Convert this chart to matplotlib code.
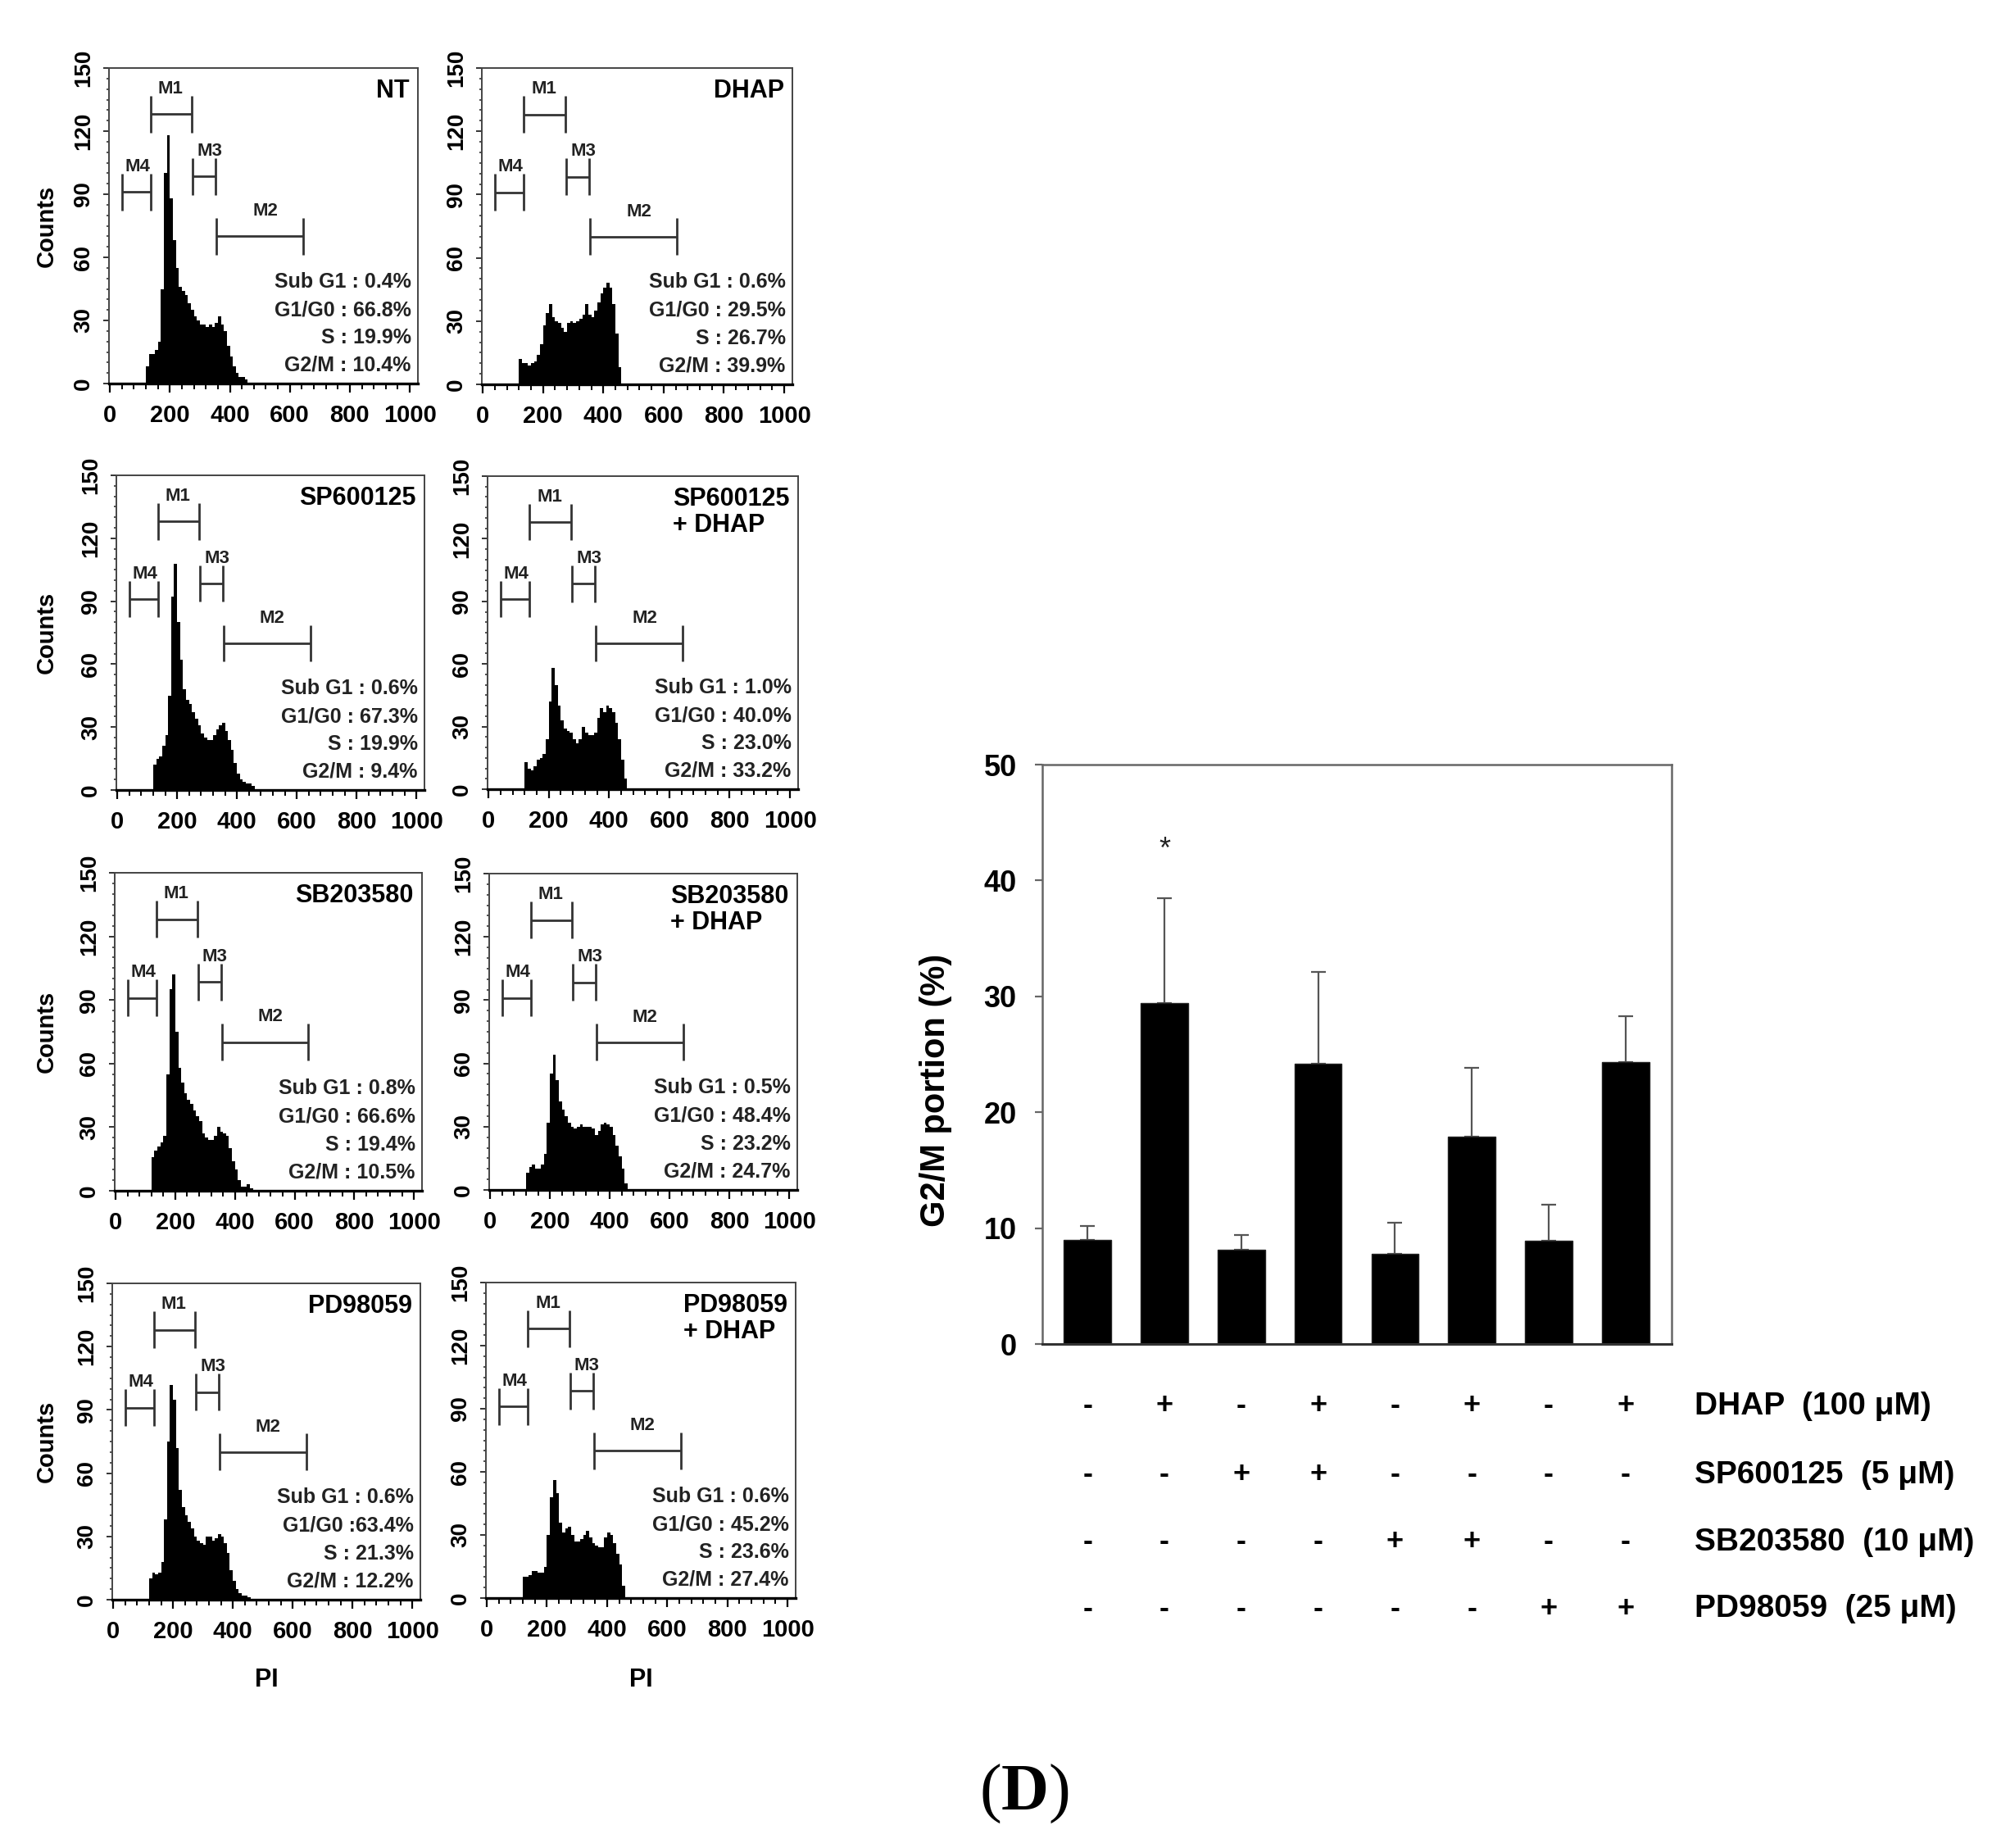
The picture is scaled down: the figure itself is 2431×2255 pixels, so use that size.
import numpy as np
import matplotlib
matplotlib.use('Agg')
import matplotlib.pyplot as plt
from matplotlib.ticker import MultipleLocator
from matplotlib import transforms

plt.rcParams['font.family'] = ['Liberation Sans', 'DejaVu Sans']
plt.rcParams['font.weight'] = 'bold'

# ---- flow cytometry histograms (counts per PI bin) ----
BIN_START = 120
BIN_WIDTH = 10

NT_COUNTS = [8, 14, 14, 16, 20, 45, 100, 118, 88, 68, 55, 46, 44, 42, 38, 35, 32, 30,
             28, 28, 27, 28, 27, 29, 32, 28, 25, 18, 13, 8, 5, 3, 3, 2, 0]
DHAP_COUNTS = [12, 10, 10, 9, 10, 11, 14, 19, 28, 34, 38, 32, 30, 29, 27, 25, 29, 30,
               29, 30, 31, 33, 38, 33, 32, 35, 39, 43, 46, 48, 46, 38, 24, 8, 0]
SP_COUNTS = [12, 15, 16, 21, 26, 45, 92, 108, 80, 62, 48, 43, 41, 37, 34, 31, 27, 25,
             24, 24, 26, 29, 31, 32, 28, 24, 19, 13, 8, 5, 4, 3, 3, 2, 0]
SP_DHAP_COUNTS = [13, 10, 9, 11, 14, 15, 17, 24, 42, 58, 50, 40, 33, 29, 28, 27, 24, 22,
                  24, 30, 27, 26, 26, 27, 34, 39, 37, 40, 39, 37, 32, 24, 14, 5, 0]
SB_COUNTS = [16, 19, 21, 23, 26, 55, 95, 102, 75, 58, 51, 46, 43, 41, 38, 35, 33, 27,
             25, 24, 24, 26, 30, 28, 27, 26, 20, 14, 10, 5, 2, 2, 3, 1, 0]
SB_DHAP_COUNTS = [8, 11, 12, 10, 10, 12, 17, 32, 55, 64, 52, 42, 38, 35, 32, 30, 29, 30,
                  31, 30, 30, 30, 29, 26, 28, 31, 32, 31, 30, 26, 21, 16, 10, 3, 0]
PD_COUNTS = [10, 13, 12, 13, 18, 38, 75, 102, 95, 72, 52, 44, 40, 37, 34, 30, 28, 27,
             26, 30, 30, 28, 29, 31, 30, 27, 22, 14, 9, 5, 3, 2, 2, 1, 0]
PD_DHAP_COUNTS = [10, 10, 11, 13, 13, 12, 12, 15, 30, 48, 56, 50, 36, 31, 33, 34, 30, 27,
                  27, 28, 30, 32, 29, 26, 25, 24, 24, 29, 31, 30, 26, 21, 16, 6, 0]

PANEL_TITLES = ['NT', 'DHAP', 'SP600125', 'SP600125\n+ DHAP',
                'SB203580', 'SB203580\n+ DHAP', 'PD98059', 'PD98059\n+ DHAP']

NT_STATS = ['Sub G1 : 0.4%', 'G1/G0 : 66.8%', 'S : 19.9%', 'G2/M : 10.4%']
DHAP_STATS = ['Sub G1 : 0.6%', 'G1/G0 : 29.5%', 'S : 26.7%', 'G2/M : 39.9%']
SP_STATS = ['Sub G1 : 0.6%', 'G1/G0 : 67.3%', 'S : 19.9%', 'G2/M : 9.4%']
SP_DHAP_STATS = ['Sub G1 : 1.0%', 'G1/G0 : 40.0%', 'S : 23.0%', 'G2/M : 33.2%']
SB_STATS = ['Sub G1 : 0.8%', 'G1/G0 : 66.6%', 'S : 19.4%', 'G2/M : 10.5%']
SB_DHAP_STATS = ['Sub G1 : 0.5%', 'G1/G0 : 48.4%', 'S : 23.2%', 'G2/M : 24.7%']
PD_STATS = ['Sub G1 : 0.6%', 'G1/G0 :63.4%', 'S : 21.3%', 'G2/M : 12.2%']
PD_DHAP_STATS = ['Sub G1 : 0.6%', 'G1/G0 : 45.2%', 'S : 23.6%', 'G2/M : 27.4%']

# marker gates (PI range and height of each bracket)
GATE_NAMES = ['M4', 'M1', 'M3', 'M2']
GATE_LO = [41, 136, 277, 356]
GATE_HI = [136, 274, 353, 645]
GATE_Y = [91, 128, 98.4, 70]
GATE_LABEL_X = [92, 203, 333, 518]

# ---- G2/M bar chart ----
G2M_MEAN = [9.0, 29.4, 8.1, 24.2, 7.8, 17.9, 8.9, 24.3]
G2M_SD = [1.2, 9.1, 1.3, 7.9, 2.7, 5.9, 3.1, 4.0]
TREATMENTS = ['DHAP  (100 μM)', 'SP600125  (5 μM)', 'SB203580  (10 μM)', 'PD98059  (25 μM)']
DHAP_SIGNS = ['-', '+', '-', '+', '-', '+', '-', '+']
SP_SIGNS = ['-', '-', '+', '+', '-', '-', '-', '-']
SB_SIGNS = ['-', '-', '-', '-', '+', '+', '-', '-']
PD_SIGNS = ['-', '-', '-', '-', '-', '-', '+', '+']

W, H = 2431, 2255
fig = plt.figure(figsize=(W / 100, H / 100), dpi=100)


def px_axes(l, t, r, b):
    return fig.add_axes([l / W, 1 - b / H, (r - l) / W, (b - t) / H])


def draw_histogram(ax, counts, title, stats):
    edges = BIN_START + BIN_WIDTH * np.arange(len(counts) + 1)
    ax.stairs(counts, edges, fill=True, color='black', lw=0)
    ax.set_xlim(-3, 1027)
    ax.set_ylim(0, 150)
    for s in ax.spines.values():
        s.set_color('#444444')
        s.set_linewidth(1.4)
    ax.spines['bottom'].set_color('black')
    ax.spines['bottom'].set_linewidth(2.4)

    ax.xaxis.set_major_locator(MultipleLocator(200))
    ax.xaxis.set_minor_locator(MultipleLocator(40))
    ax.yaxis.set_major_locator(MultipleLocator(30))
    ax.yaxis.set_minor_locator(MultipleLocator(5))
    ax.tick_params(axis='x', which='major', direction='out', length=8, width=1.6,
                   labelsize=21, pad=10, color='black')
    ax.tick_params(axis='x', which='minor', direction='out', length=5, width=1.4, color='black')
    ax.tick_params(axis='y', which='major', direction='out', length=5, width=1.4,
                   labelsize=20, pad=8, color='#333333')
    ax.tick_params(axis='y', which='minor', direction='out', length=2.5, width=1.2, color='#333333')
    for lab in ax.get_yticklabels():
        lab.set_rotation(90)
        lab.set_va('center')
        lab.set_fontweight('bold')
    for lab in ax.get_xticklabels():
        lab.set_fontweight('bold')

    # gate brackets
    half = 8.7
    for name, lo, hi, y, lx in zip(GATE_NAMES, GATE_LO, GATE_HI, GATE_Y, GATE_LABEL_X):
        ax.hlines(y, lo, hi, color='#333333', lw=2.0)
        ax.vlines([lo, hi], y - half, y + half, color='#333333', lw=2.0)
        ax.text(lx, y + half - 0.8, name, ha='center', va='bottom', fontsize=16,
                fontweight='bold', color='#222222')

    ax.text(0.973, 0.967, title, transform=ax.transAxes, ha='right', va='top',
            fontsize=22, fontweight='bold', multialignment='left', linespacing=1.1)

    trans = transforms.blended_transform_factory(ax.transAxes, ax.transData)
    for s, y in zip(stats, [48.5, 35.0, 21.8, 8.7]):
        ax.text(0.978, y, s, transform=trans, ha='right', va='center', fontsize=18,
                fontweight='bold', color='#222222')


boxes = [(133, 83, 510, 468), (588, 83, 967, 469),
         (142, 580, 518, 964), (595, 581, 974, 963),
         (140, 1065, 515, 1453), (597, 1066, 973, 1452),
         (137, 1566, 513, 1952), (593, 1565, 971, 1950)]
all_counts = [NT_COUNTS, DHAP_COUNTS, SP_COUNTS, SP_DHAP_COUNTS,
              SB_COUNTS, SB_DHAP_COUNTS, PD_COUNTS, PD_DHAP_COUNTS]
all_stats = [NT_STATS, DHAP_STATS, SP_STATS, SP_DHAP_STATS,
             SB_STATS, SB_DHAP_STATS, PD_STATS, PD_DHAP_STATS]

for i, (box, counts, title, stats) in enumerate(zip(boxes, all_counts, PANEL_TITLES, all_stats)):
    ax = px_axes(*box)
    draw_histogram(ax, counts, title, stats)
    if i % 2 == 0:
        fig.text(57 / W, 1 - (box[1] + box[3]) / 2 / H, 'Counts', rotation=90,
                 ha='center', va='center', fontsize=21, fontweight='bold')
    if i >= 6:
        fig.text((box[0] + box[2]) / 2 / W, 1 - 2050 / H, 'PI', ha='center',
                 va='center', fontsize=22, fontweight='bold')

# ---- bar chart ----
axb = px_axes(1272, 933, 2040, 1640)
x = np.arange(len(G2M_MEAN))
axb.bar(x, G2M_MEAN, width=0.615, color='black', edgecolor='#222222', lw=1, zorder=2)
axb.errorbar(x, G2M_MEAN, yerr=[np.zeros(len(G2M_SD)), G2M_SD], fmt='none',
             ecolor='#555555', elinewidth=1.6, capsize=6.5, capthick=1.6, zorder=1)
axb.set_xlim(-0.59, 7.6)
axb.set_ylim(0, 50)
axb.set_xticks([])
axb.yaxis.set_major_locator(MultipleLocator(10))
axb.tick_params(axis='y', direction='out', length=6.5, width=1.6, color='#666666',
                labelsize=26, pad=16)
for lab in axb.get_yticklabels():
    lab.set_fontweight('bold')
for s in axb.spines.values():
    s.set_color('#666666')
    s.set_linewidth(1.8)
axb.spines['bottom'].set_color('#333333')
axb.spines['bottom'].set_linewidth(2.2)
axb.text(1, 42.6, '*', ha='center', va='center', fontsize=26, fontweight='normal',
         color='#222222')
fig.text(1142 / W, 1 - 1330 / H, 'G2/M portion (%)', rotation=90, ha='center',
         va='center', fontsize=30, fontweight='bold')

row_y = [1716, 1800, 1882, 1963]
sign_rows = [DHAP_SIGNS, SP_SIGNS, SB_SIGNS, PD_SIGNS]
tsign = transforms.blended_transform_factory(axb.transData, fig.transFigure)
for ypx, signs, label in zip(row_y, sign_rows, TREATMENTS):
    for xi, sg in zip(x, signs):
        axb.text(xi, 1 - ypx / H, sg, transform=tsign, ha='center', va='center',
                 fontsize=26, fontweight='bold', clip_on=False)
    fig.text(2068 / W, 1 - ypx / H, label, ha='left', va='center', fontsize=28,
             fontweight='bold')

# panel letter
fig.text(1209 / W, 1 - 2189 / H, '(', ha='center', va='center', fontsize=58,
         family='Liberation Serif', fontweight='normal')
fig.text(1251 / W, 1 - 2189 / H, 'D', ha='center', va='center', fontsize=58,
         family='Liberation Serif', fontweight='bold')
fig.text(1293 / W, 1 - 2189 / H, ')', ha='center', va='center', fontsize=58,
         family='Liberation Serif', fontweight='normal')

fig.savefig('out.png', dpi=100, facecolor='white')
